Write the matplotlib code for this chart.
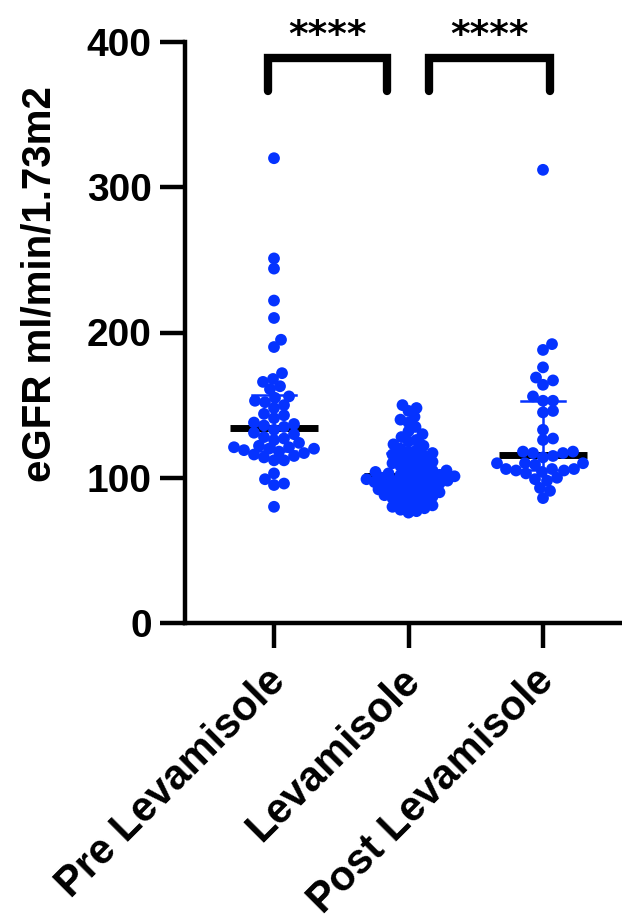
import matplotlib
matplotlib.use("Agg")
import matplotlib.pyplot as plt
import matplotlib.transforms as mtransforms
import numpy as np

# eGFR values (ml/min/1.73m2)
groups = ["Pre Levamisole", "Levamisole", "Post Levamisole"]

pre_levamisole = [320, 251, 244, 222, 210, 195, 190, 172, 168, 166,
                  163, 161, 156, 155, 153, 152, 150, 148, 144, 143,
                  141, 138, 137, 136, 135, 133, 131, 130, 128, 127,
                  126, 124, 122, 121, 121, 120, 120, 119, 118, 117,
                  116, 115, 114, 112, 112, 103, 99, 96, 95, 80]

levamisole = [150, 148, 146, 142, 140, 138, 135, 132, 130, 128,
              126, 125, 123, 122, 120, 119, 118, 117, 116, 115,
              114, 113, 112, 111, 110, 109, 108, 107, 106, 105,
              105, 104, 103, 103, 102, 102, 101, 101, 100, 100,
              99, 99, 98, 98, 97, 97, 96, 96, 95, 95,
              94, 93, 92, 92, 91, 90, 90, 89, 88, 88,
              87, 86, 85, 84, 83, 82, 81, 80, 79, 78, 77, 76]

post_levamisole = [312, 192, 188, 176, 169, 167, 164, 156, 153, 153,
                   146, 145, 133, 127, 126, 118, 118, 117, 117, 115,
                   114, 110, 110, 110, 109, 106, 106, 106, 105, 105,
                   104, 103, 100, 99, 98, 93, 91, 86]

comparisons = [(0, 1, "****"), (1, 2, "****")]

blue = "#0533ff"
font = "Liberation Sans"

W, H = 622, 924
fig = plt.figure(figsize=(W / 100, H / 100), dpi=100)

# axes placement in pixels
x_left, x_right = 185, W
y_top, y_bot = 42, 623
ax = fig.add_axes([x_left / W, 1 - y_bot / H, (x_right - x_left) / W, (y_bot - y_top) / H])

x0_px, step_px = 274, 134.5
ax.set_xlim((x_left - x0_px) / step_px, (x_right - x0_px) / step_px)
ax.set_ylim(0, 400)

px_per_x = step_px
px_per_y = (y_bot - y_top) / 400.0


def swarm(vals, dmin):
    # greedy beeswarm in pixel space, overlap allowed down to dmin
    order = np.argsort(vals)
    placed = []
    offs = np.zeros(len(vals))
    cands = [0]
    for k in range(1, 80):
        cands += [k, -k]
    for i in order:
        y = vals[i] * px_per_y
        for c in cands:
            ok = True
            for (px, py) in placed:
                if (c - px) ** 2 + (y - py) ** 2 < dmin ** 2:
                    ok = False
                    break
            if ok:
                break
        placed.append((c, y))
        offs[i] = c / px_per_x
    return offs


all_data = [pre_levamisole, levamisole, post_levamisole]
dmins = [10, 8, 10]
for gi, (vals, dm) in enumerate(zip(all_data, dmins)):
    vals = np.array(vals, dtype=float)
    xs = gi + swarm(vals, dm)
    ax.scatter(xs, vals, s=72, color=blue, edgecolors="none", zorder=3, clip_on=False)
    med = np.median(vals)
    q1, q3 = np.percentile(vals, [25, 75], method="weibull")
    ax.plot([gi, gi], [q1, q3], color=blue, lw=1.8, zorder=4)
    ax.plot([gi - 0.16, gi + 0.16], [q1, q1], color=blue, lw=1.8, zorder=4)
    ax.plot([gi - 0.16, gi + 0.16], [q3, q3], color=blue, lw=1.8, zorder=4)
    ax.plot([gi - 0.33, gi + 0.33], [med, med], color="black", lw=5, zorder=2,
            solid_capstyle="butt")

# significance brackets
for a, b, label in comparisons:
    xa = a - 0.045 if a == 0 else a + 0.15
    xb = b - 0.16 if b == 1 else b + 0.05
    ax.plot([xa, xa, xb, xb], [366, 389, 389, 366], color="black", lw=6,
            solid_capstyle="round", solid_joinstyle="miter", clip_on=False)
    ax.text((xa + xb) / 2, 404, label, ha="center", va="center", fontsize=27,
            fontweight="bold", family="DejaVu Sans", clip_on=False)

for s in ["top", "right"]:
    ax.spines[s].set_visible(False)
for s in ["left", "bottom"]:
    ax.spines[s].set_linewidth(3.2)

ax.set_yticks([0, 100, 200, 300, 400])
ax.set_xticks(range(len(groups)))
ax.set_xticklabels(groups, rotation=45, ha="right", rotation_mode="anchor", va="top")
ax.tick_params(axis="both", length=18, width=3.2)
ax.tick_params(axis="y", pad=6, labelsize=28)
ax.tick_params(axis="x", pad=9, labelsize=30)
shift = mtransforms.ScaledTranslation(-9 / 100, 0, fig.dpi_scale_trans)
for lab in ax.get_xticklabels():
    lab.set_transform(lab.get_transform() + shift)
for lab in ax.get_xticklabels() + ax.get_yticklabels():
    lab.set_fontweight("bold")
    lab.set_family(font)

fig.text(40 / W, 1 - 284 / H, "eGFR ml/min/1.73m2", rotation=90, ha="center", va="center",
         fontsize=29, fontweight="bold", family=font)

fig.savefig("out.png", dpi=100)
